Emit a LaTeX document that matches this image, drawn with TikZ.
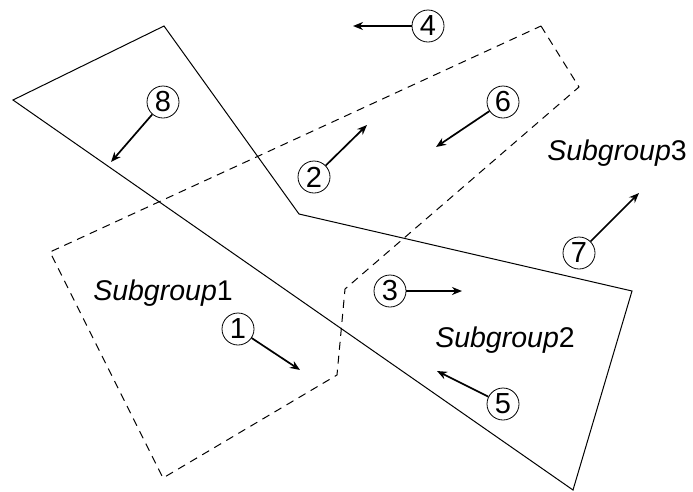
\documentclass[tikz,border=0pt]{standalone}
\usepackage{fontspec}
\setmainfont{Liberation Sans}
\usetikzlibrary{arrows.meta}
\tikzset{
  num/.style={circle,draw,line width=0.8pt,inner sep=0pt,minimum size=32pt,font=\fontsize{29}{29}\selectfont},
  lbl/.style={font=\fontsize{28.5}{28.5}\selectfont},
  arr/.style={line width=1.7pt,-{Stealth[length=10pt,width=8pt]}},
  solidpoly/.style={line width=1pt},
  dashpoly/.style={line width=1pt,dash pattern=on 8pt off 6pt}
}
\begin{document}
\begin{tikzpicture}[x=1pt,y=-1pt]
\useasboundingbox (0,0) rectangle (693,491);
% solid polygon
\coordinate (p1) at (13,100);
\coordinate (p2) at (164,26);
\coordinate (p3) at (299,214);
\coordinate (p4) at (632,291);
\coordinate (p5) at (573,490);
\draw[solidpoly] (p1) -- (p2) -- (p3) -- (p4) -- (p5) -- cycle;
% dashed polygon
\coordinate (d1) at (541,26);
\coordinate (d2) at (579,87);
\coordinate (d3) at (345,289);
\coordinate (d4) at (337,375);
\coordinate (d5) at (163,478);
\coordinate (d6) at (50,252);
\draw[dashpoly] (d1) -- (d2) -- (d3) -- (d4) -- (d5) -- (d6) -- cycle;
% labels
\node[lbl] (s1) at (163,293) {\textit{Subgroup}1};
\node[lbl] (s2) at (505,340) {\textit{Subgroup}2};
\node[lbl] (s3) at (617,153) {\textit{Subgroup}3};
% circled numbers
\node[num] (c1) at (238,329) {1};
\node[num] (c2) at (314,177) {2};
\node[num] (c3) at (390,291) {3};
\node[num] (c4) at (428,26) {4};
\node[num] (c5) at (503,404) {5};
\node[num] (c6) at (503,102) {6};
\node[num] (c7) at (579,253) {7};
\node[num] (c8) at (163,102) {8};
% arrow ends
\coordinate (a1) at (300,370);
\coordinate (a2) at (367,125);
\coordinate (a3) at (462,291);
\coordinate (a4) at (353,26);
\coordinate (a5) at (437,371);
\coordinate (a6) at (436,147);
\coordinate (a7) at (639,193);
\coordinate (a8) at (111,162);
\foreach \i in {1,...,8} {\draw[arr] (c\i) -- (a\i);}
\end{tikzpicture}
\end{document}
